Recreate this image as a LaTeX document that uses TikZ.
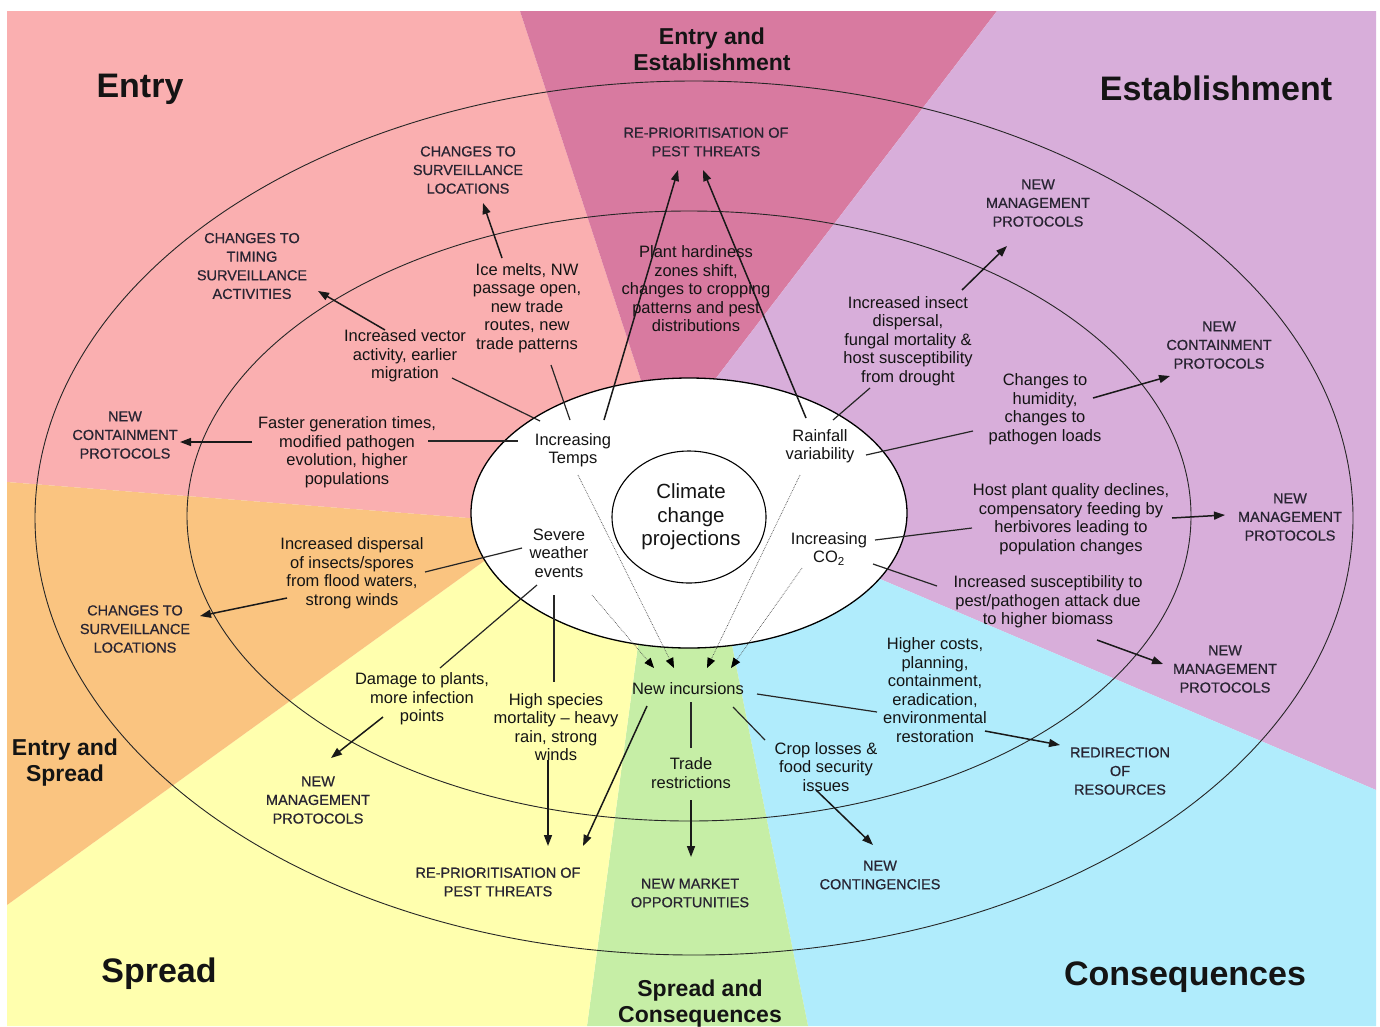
\documentclass[tikz,border=0pt]{standalone}
\usepackage{fontspec}
\setmainfont{Liberation Sans}
\usetikzlibrary{arrows.meta,calc}
\definecolor{entry}{RGB}{250,175,176}
\definecolor{entryest}{RGB}{216,122,160}
\definecolor{establish}{RGB}{216,174,218}
\definecolor{conseq}{RGB}{176,236,252}
\definecolor{spreadcons}{RGB}{198,238,166}
\definecolor{spread}{RGB}{255,255,174}
\definecolor{entryspread}{RGB}{250,196,128}
\definecolor{capsink}{RGB}{40,36,50}
\tikzset{
	phase/.style={font=\bfseries\fontsize{34}{38}\selectfont, text=black!92, inner sep=0pt},
	duo/.style={font=\bfseries\fontsize{23}{26}\selectfont, align=center, text=black!92, inner sep=0pt},
	driver/.style={font=\fontsize{16.5}{18.5}\selectfont, align=center, text=black!92, inner sep=1pt},
	effect/.style={font=\fontsize{16.5}{18.5}\selectfont, align=center, text=black!92, inner sep=1pt},
	response/.style={font=\fontsize{14.5}{18.6}\selectfont\addfontfeatures{FakeBold=0.6}, align=center, text=capsink, inner sep=1pt},
	link/.style={line width=1.2pt, black!85},
	push/.style={line width=1.5pt, black!90, -{Triangle[length=11pt,width=8pt]}},
	feed/.style={line width=.7pt, black!70, densely dotted, -{Triangle[length=10pt,width=8pt,color=black]}},
}
\begin{document}
\begin{tikzpicture}[x=1pt, y=-1pt]
	\useasboundingbox (0,0) rectangle (1380,1026);
	\fill[white] (0,0) rectangle (1380,1026);
	\draw[draw=none, fill=entry] (690,516) -- (520,522) -- (7,482) -- (7,11) -- (520,11) -- (654,420) -- cycle;
	\draw[draw=none, fill=entryest] (690,516) -- (654,420) -- (520,11) -- (997,11) -- (684,420) -- cycle;
	\draw[draw=none, fill=establish] (690,516) -- (684,420) -- (997,11) -- (1376,11) -- (1376,790) -- (840,562) -- cycle;
	\draw[draw=none, fill=conseq] (690,516) -- (840,562) -- (1376,790) -- (1376,1026) -- (808,1026) -- (723,600) -- cycle;
	\draw[draw=none, fill=spreadcons] (690,516) -- (723,600) -- (808,1026) -- (587,1026) -- (644,600) -- cycle;
	\draw[draw=none, fill=spread] (690,516) -- (644,600) -- (587,1026) -- (7,1026) -- (7,905) -- (530,528) -- cycle;
	\draw[draw=none, fill=entryspread] (690,516) -- (530,528) -- (7,905) -- (7,482) -- (520,522) -- cycle;
	\draw[line width=.9pt, black!85] (694,518) ellipse (659 and 437);
	\draw[line width=.9pt, black!85] (689,516) ellipse (502 and 305);
	\draw[line width=1.3pt, fill=white] (689,513) ellipse (218 and 135);
	\draw[line width=1.1pt] (689,517) ellipse (77 and 66);

	\node[phase] (tentry) at (140,89) {Entry};
	\node[phase] (testab) at (1216,88) {Establishment};
	\node[phase] (tspread) at (159,974) {Spread};
	\node[phase] (tconseq) at (1185,977) {Consequences};
	\node[duo] (tentryest) at (712,49) {Entry and\\Establishment};
	\node[duo] (tentryspread) at (65,763) {Entry and\\Spread};
	\node[duo] (tspreadcons) at (700,1004) {Spread and\\Consequences};

	\node[font=\fontsize{20.5}{23.5}\selectfont, align=center, text=black!92] (climate) at (691,517) {Climate\\change\\projections};
	\node[driver] (temps) at (573,450) {Increasing\\Temps};
	\node[driver] (rain) at (820,446) {Rainfall\\variability};
	\node[driver] (severe) at (559,553) {Severe\\weather\\events};
	\node[driver] (co2) at (829,549) {Increasing\\CO\textsubscript{2}};

	\node[effect] (vector) at (405,356) {Increased vector\\activity, earlier\\migration};
	\node[effect] (ice) at (527,308) {Ice melts, NW\\passage open,\\new trade\\routes, new\\trade patterns};
	\node[effect] (plant) at (696,289) {Plant hardiness\\zones shift,\\changes to cropping\\patterns and pest\\distributions};
	\node[effect] (faster) at (347,452) {Faster generation times,\\modified pathogen\\evolution, higher\\populations};
	\node[effect] (insect) at (908,341) {Increased insect\\dispersal,\\fungal mortality \&\\host susceptibility\\from drought};
	\node[effect] (humid) at (1045,409) {Changes to\\humidity,\\changes to\\pathogen loads};
	\node[effect] (host) at (1071,519) {Host plant quality declines,\\compensatory feeding by\\herbivores leading to\\population changes};
	\node[effect] (suscept) at (1048,602) {Increased susceptibility to\\pest/pathogen attack due\\to higher biomass};
	\node[effect] (dispersal) at (352,573) {Increased dispersal\\of insects/spores\\from flood waters,\\strong winds};
	\node[effect] (damage) at (422,699) {Damage to plants,\\more infection\\points};
	\node[effect] (mortality) at (556,727) {High species\\mortality -- heavy\\rain, strong\\winds};
	\node[effect] (incur) at (688,689) {New incursions};
	\node[effect] (trade) at (691,773) {Trade\\restrictions};
	\node[effect] (crop) at (826,767) {Crop losses \&\\food security\\issues};
	\node[effect] (costs) at (935,690) {Higher costs,\\planning,\\containment,\\eradication,\\environmental\\restoration};

	\node[response] (survtop) at (468,170) {CHANGES TO\\SURVEILLANCE\\LOCATIONS};
	\node[response] (repriotop) at (706,142) {RE-PRIORITISATION OF\\PEST THREATS};
	\node[response] (timing) at (252,266) {CHANGES TO\\TIMING\\SURVEILLANCE\\ACTIVITIES};
	\node[response] (contL) at (125,435) {NEW\\CONTAINMENT\\PROTOCOLS};
	\node[response] (mgmttop) at (1038,203) {NEW\\MANAGEMENT\\PROTOCOLS};
	\node[response] (contR) at (1219,345) {NEW\\CONTAINMENT\\PROTOCOLS};
	\node[response] (mgmtR) at (1290,517) {NEW\\MANAGEMENT\\PROTOCOLS};
	\node[response] (mgmtLR) at (1225,669) {NEW\\MANAGEMENT\\PROTOCOLS};
	\node[response] (redir) at (1120,771) {REDIRECTION\\OF\\RESOURCES};
	\node[response] (conting) at (880,875) {NEW\\CONTINGENCIES};
	\node[response] (market) at (690,893) {NEW MARKET\\OPPORTUNITIES};
	\node[response] (repriobot) at (498,882) {RE-PRIORITISATION OF\\PEST THREATS};
	\node[response] (mgmtLL) at (318,800) {NEW\\MANAGEMENT\\PROTOCOLS};
	\node[response] (survL) at (135,629) {CHANGES TO\\SURVEILLANCE\\LOCATIONS};

	\draw[link] ($(temps)+(-33,-29)$) -- ($(vector)+(47,22)$);
	\draw[link] ($(temps)+(-3,-30)$) -- ($(ice)+(24,57)$);
	\draw[push] ($(temps)+(31,-30)$) -- ($(repriotop)+(-28,28)$);
	\draw[link] ($(faster)+(81,-11)$) -- ($(temps)+(-55,-9)$);
	\draw[push] ($(vector)+(-20,-26)$) -- ($(timing)+(66,25)$);
	\draw[push] ($(ice)+(-25,-50)$) -- ($(survtop)+(15,33)$);
	\draw[push] ($(faster)+(-95,-10)$) -- ($(contL)+(55,7)$);
	\draw[push] ($(rain)+(-14,-28)$) -- ($(repriotop)+(-3,28)$);
	\draw[link] ($(rain)+(13,-26)$) -- ($(insect)+(-38,47)$);
	\draw[push] ($(insect)+(54,-51)$) -- ($(mgmttop)+(-31,43)$);
	\draw[link] ($(rain)+(46,9)$) -- ($(humid)+(-72,22)$);
	\draw[push] ($(humid)+(48,-11)$) -- ($(contR)+(-49,31)$);
	\draw[link] ($(co2)+(46,-9)$) -- ($(host)+(-99,9)$);
	\draw[push] ($(host)+(101,-1)$) -- ($(mgmtR)+(-65,-2)$);
	\draw[link] ($(co2)+(44,15)$) -- ($(suscept)+(-111,-16)$);
	\draw[push] ($(suscept)+(49,38)$) -- ($(mgmtLR)+(-62,-5)$);
	\draw[link] ($(severe)+(-37,-5)$) -- ($(dispersal)+(73,-1)$);
	\draw[push] ($(dispersal)+(-65,25)$) -- ($(survL)+(65,-13)$);
	\draw[link] ($(severe)+(-22,32)$) -- ($(damage)+(18,-31)$);
	\draw[push] ($(damage)+(-39,18)$) -- ($(mgmtLL)+(13,-42)$);
	\draw[link] ($(severe)+(-5,42)$) -- ($(mortality)+(-2,-45)$);
	\draw[push] ($(mortality)+(-8,33)$) -- ($(repriobot)+(50,-36)$);
	\draw[push] ($(incur)+(-41,17)$) -- ($(repriobot)+(85,-36)$);
	\draw[link] ($(incur)+(3,13)$) -- ($(trade)+(0,-25)$);
	\draw[push] ($(trade)+(0,27)$) -- ($(market)+(1,-36)$);
	\draw[link] ($(incur)+(45,18)$) -- ($(crop)+(-61,-27)$);
	\draw[push] ($(crop)+(-10,23)$) -- ($(conting)+(-7,-30)$);
	\draw[link] ($(incur)+(69,5)$) -- ($(costs)+(-58,22)$);
	\draw[push] ($(costs)+(50,41)$) -- ($(redir)+(-60,-26)$);
	\draw[feed] ($(severe)+(33,42)$) -- ($(incur)+(-34,-21)$);
	\draw[feed] ($(temps)+(5,25)$) -- ($(incur)+(-14,-21)$);
	\draw[feed] ($(rain)+(-20,29)$) -- ($(incur)+(19,-21)$);
	\draw[feed] ($(co2)+(-27,19)$) -- ($(incur)+(43,-21)$);
\end{tikzpicture}
\end{document}
